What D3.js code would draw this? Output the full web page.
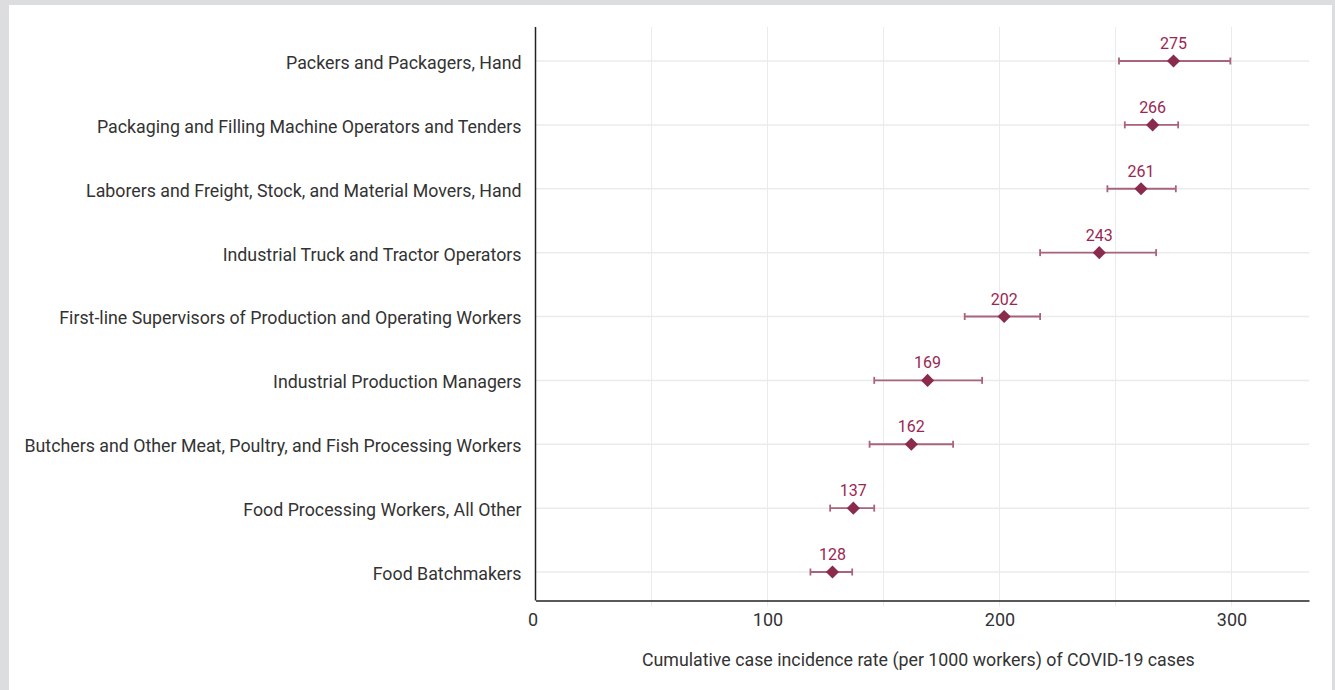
<!DOCTYPE html>
<html><head><meta charset="utf-8">
<script src="https://cdn.jsdelivr.net/npm/d3@7"></script>
<style>
html,body{margin:0;padding:0;background:#dcdddf;}
svg{display:block;}
</style></head>
<body>
<svg id="chart" width="1335" height="690"></svg>
<script>
const categories = [
  "Packers and Packagers, Hand",
  "Packaging and Filling Machine Operators and Tenders",
  "Laborers and Freight, Stock, and Material Movers, Hand",
  "Industrial Truck and Tractor Operators",
  "First-line Supervisors of Production and Operating Workers",
  "Industrial Production Managers",
  "Butchers and Other Meat, Poultry, and Fish Processing Workers",
  "Food Processing Workers, All Other",
  "Food Batchmakers"
];
const rates = [275, 266, 261, 243, 202, 169, 162, 137, 128];
const lower = [251.5, 254, 246.5, 217.5, 185, 146, 144, 127, 118.5];
const upper = [299.5, 277, 276, 267.5, 217.5, 192.5, 180, 146, 136.5];
const xTicks = [0, 100, 200, 300];
const gridTicks = [50, 100, 150, 200, 250, 300];
const xTitle = "Cumulative case incidence rate (per 1000 workers) of COVID-19 cases";

(function () {
const svg = d3.select("#chart");
svg.append("rect").attr("x", 9).attr("y", 5).attr("width", 1323).attr("height", 690).attr("fill", "#fff");

const pL = 535.5, pR = 1309, pT = 27, pB = 600.5;
const x = d3.scaleLinear().domain([0, 333.4]).range([pL, pR]);
const y = d3.scalePoint().domain(categories).range([61, 572]);
const data = categories.map((c, i) => ({c, v: rates[i], lo: lower[i], hi: upper[i]}));

// grid
const g = svg.append("g");
g.selectAll(".vg").data(gridTicks).join("line")
  .attr("x1", d => x(d)).attr("x2", d => x(d))
  .attr("y1", pT).attr("y2", pB + 6)
  .attr("stroke", "#ebebeb").attr("stroke-width", 1);
g.selectAll(".hg").data(categories).join("line")
  .attr("x1", pL).attr("x2", pR)
  .attr("y1", d => y(d)).attr("y2", d => y(d))
  .attr("stroke", "#ebebeb").attr("stroke-width", 1.5);

// axes
const xAxis = d3.axisBottom(x).tickValues(xTicks).tickSize(0).tickPadding(13).tickFormat(d3.format("d"));
const ax = svg.append("g").attr("transform", `translate(0,${pB})`).call(xAxis);
ax.select(".domain").attr("stroke", "#222").attr("stroke-width", 1.5);
ax.selectAll("text").attr("font-family", "Roboto, sans-serif").attr("font-size", 18).attr("fill", "#333");
ax.selectAll(".tick").filter(d => d === 0).select("text").attr("dx", -3);

const yAxis = d3.axisLeft(y).tickSize(0).tickPadding(14);
const ay = svg.append("g").attr("transform", `translate(${pL},0)`).call(yAxis);
ay.select(".domain").attr("d", `M0,${pT}V${pB}`).attr("stroke", "#222").attr("stroke-width", 1.5);
ay.selectAll("text").attr("font-family", "Roboto, sans-serif").attr("font-size", 17.8).attr("fill", "#333")
  .attr("dy", "0.42em");

svg.append("text").attr("x", (pL + pR) / 2 - 4).attr("y", 666)
  .attr("text-anchor", "middle").attr("font-family", "Roboto, sans-serif")
  .attr("font-size", 17.8).attr("fill", "#333").text(xTitle);

// error bars
const eb = svg.append("g").attr("stroke", "#a9637b").attr("stroke-width", 1.8);
eb.selectAll(".bar").data(data).join("line")
  .attr("x1", d => x(d.lo)).attr("x2", d => x(d.hi))
  .attr("y1", d => y(d.c)).attr("y2", d => y(d.c));
eb.selectAll(".capl").data(data).join("line")
  .attr("x1", d => x(d.lo)).attr("x2", d => x(d.lo))
  .attr("y1", d => y(d.c) - 3.5).attr("y2", d => y(d.c) + 3.5);
eb.selectAll(".capr").data(data).join("line")
  .attr("x1", d => x(d.hi)).attr("x2", d => x(d.hi))
  .attr("y1", d => y(d.c) - 3.5).attr("y2", d => y(d.c) + 3.5);

// diamonds
svg.append("g").selectAll("path").data(data).join("path")
  .attr("d", d3.symbol(d3.symbolDiamond2, 110))
  .attr("transform", d => `translate(${x(d.v)},${y(d.c)})`)
  .attr("fill", "#8a2a4c");

// labels
svg.append("g").selectAll("text").data(data).join("text")
  .attr("x", d => x(d.v)).attr("y", d => y(d.c) - 12)
  .attr("text-anchor", "middle").attr("font-family", "Roboto, sans-serif")
  .attr("font-size", 16).attr("fill", "#9a2752").text(d => d.v);
})();
</script>
</body></html>
